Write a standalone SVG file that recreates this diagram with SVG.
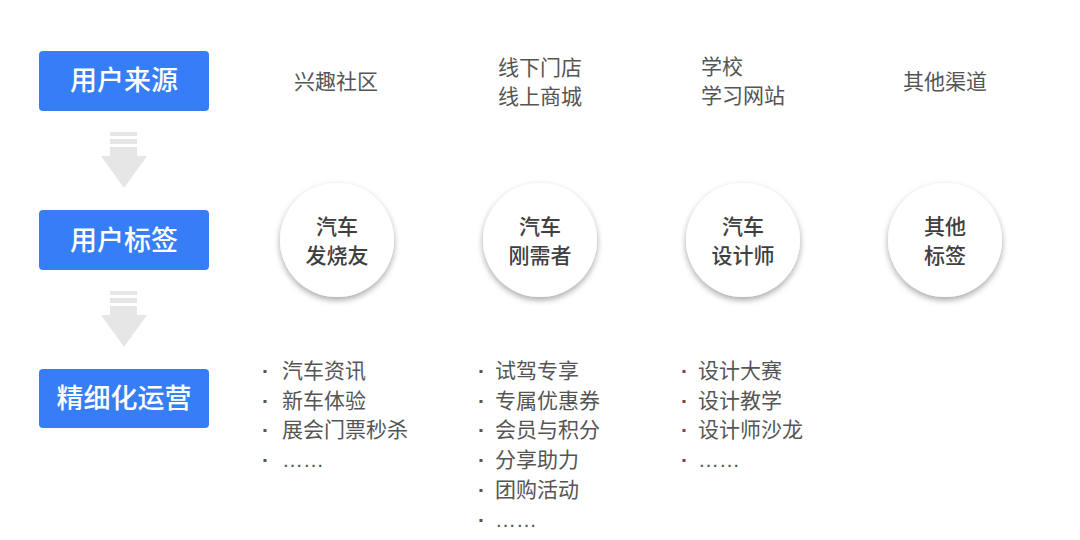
<svg xmlns="http://www.w3.org/2000/svg" width="1080" height="540" viewBox="0 0 1080 540">
<defs>
<style>
.box{fill:#377ef6;}
.boxt{fill:#ffffff;font-family:"Noto Sans CJK SC",sans-serif;font-size:27px;font-weight:500;text-anchor:middle;}
.src{fill:#555555;font-family:"Noto Sans CJK SC",sans-serif;font-size:21px;}
.circ{fill:#ffffff;filter:url(#sh);}
.ct{fill:#404040;font-family:"Noto Sans CJK SC",sans-serif;font-size:21px;font-weight:500;text-anchor:middle;}
.li{fill:#555555;font-family:"Liberation Sans","Noto Sans CJK SC",sans-serif;font-size:21px;}
.bu{font-weight:bold;}
.arr{fill:#e6e6e6;}
</style>
<filter id="sh" x="-30%" y="-30%" width="160%" height="170%">
<feDropShadow dx="0" dy="3" stdDeviation="3" flood-color="#000000" flood-opacity="0.35"/>
</filter>
<g id="downarrow">
<rect x="110" y="0" width="27" height="4"/>
<rect x="110" y="7" width="27" height="5"/>
<rect x="110" y="15" width="27" height="10"/>
<polygon points="101,24 147,24 124,56"/>
</g>
</defs>

<g id="connectors" class="arr">
<use href="#downarrow" x="0" y="132"/>
<use href="#downarrow" x="0" y="291"/>
</g>

<g id="box-source">
<rect class="box" x="39" y="51" width="170" height="60" rx="4"/>
<text class="boxt" x="124" y="90">用户来源</text>
</g>
<g id="box-tag">
<rect class="box" x="39" y="210" width="170" height="60" rx="4"/>
<text class="boxt" x="124" y="250">用户标签</text>
</g>
<g id="box-ops">
<rect class="box" x="39" y="369" width="170" height="59" rx="4"/>
<text class="boxt" x="124" y="408">精细化运营</text>
</g>

<g id="source-1">
<text class="src" x="336" y="89" text-anchor="middle">兴趣社区</text>
</g>
<g id="source-2">
<text class="src" x="498" y="75">线下门店</text>
<text class="src" x="498" y="104">线上商城</text>
</g>
<g id="source-3">
<text class="src" x="701" y="74">学校</text>
<text class="src" x="701" y="103">学习网站</text>
</g>
<g id="source-4">
<text class="src" x="945" y="89" text-anchor="middle">其他渠道</text>
</g>

<g id="tag-1">
<circle class="circ" cx="337" cy="240" r="57"/>
<text class="ct" x="337" y="234">汽车</text>
<text class="ct" x="337" y="263">发烧友</text>
</g>
<g id="tag-2">
<circle class="circ" cx="540" cy="240" r="57"/>
<text class="ct" x="540" y="234">汽车</text>
<text class="ct" x="540" y="263">刚需者</text>
</g>
<g id="tag-3">
<circle class="circ" cx="743" cy="240" r="57"/>
<text class="ct" x="743" y="234">汽车</text>
<text class="ct" x="743" y="263">设计师</text>
</g>
<g id="tag-4">
<circle class="circ" cx="945" cy="240" r="57"/>
<text class="ct" x="945" y="234">其他</text>
<text class="ct" x="945" y="263">标签</text>
</g>

<g id="ops-1" class="li">
<text class="bu" x="262" y="378">·</text><text x="282" y="378">汽车资讯</text>
<text class="bu" x="262" y="408">·</text><text x="282" y="408">新车体验</text>
<text class="bu" x="262" y="437">·</text><text x="282" y="437">展会门票秒杀</text>
<text class="bu" x="262" y="467">·</text><text x="282" y="467">……</text>
</g>
<g id="ops-2" class="li">
<text class="bu" x="478" y="378">·</text><text x="495" y="378">试驾专享</text>
<text class="bu" x="478" y="408">·</text><text x="495" y="408">专属优惠券</text>
<text class="bu" x="478" y="437">·</text><text x="495" y="437">会员与积分</text>
<text class="bu" x="478" y="467">·</text><text x="495" y="467">分享助力</text>
<text class="bu" x="478" y="497">·</text><text x="495" y="497">团购活动</text>
<text class="bu" x="478" y="527">·</text><text x="495" y="527">……</text>
</g>
<g id="ops-3" class="li">
<text class="bu" x="681" y="378">·</text><text x="698" y="378">设计大赛</text>
<text class="bu" x="681" y="408">·</text><text x="698" y="408">设计教学</text>
<text class="bu" x="681" y="437">·</text><text x="698" y="437">设计师沙龙</text>
<text class="bu" x="681" y="467">·</text><text x="698" y="467">……</text>
</g>
</svg>
